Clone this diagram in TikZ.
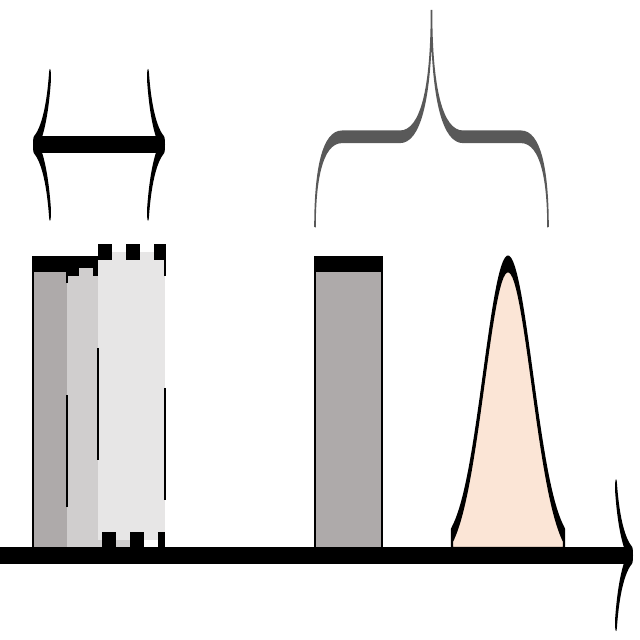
\documentclass[tikz,border=0pt]{standalone}
\usepackage{xcolor}
\usepackage{tikz}
\usetikzlibrary{arrows.meta}
\definecolor{pulsegray}{RGB}{174,170,170}
\definecolor{echogray}{RGB}{208,206,206}
\definecolor{tailgray}{RGB}{231,230,230}
\definecolor{peach}{RGB}{251,229,214}
\tikzstyle{axisarrow} = [-{To[length=1.8mm, width=1.9mm]}, semithick]
\tikzstyle{spanarrow} = [{To[length=1.8mm, width=1.9mm]}-{To[length=1.8mm, width=1.9mm]}, semithick]
\tikzstyle{pulse} = [fill=pulsegray, draw=black, semithick]
\tikzstyle{echo} = [draw=black, semithick, dash pattern=on 1.4mm off 1.4mm]

\begin{document}
\begin{tikzpicture}[x=0.1mm, y=0.1mm]
    \useasboundingbox (0,0) rectangle (640,640);
    % drawn flat, then stretched upward 8 times
    \begin{scope}[transform canvas={yscale=8}]
    \draw[pulse] (33,10.6) rectangle (100,47);
    \draw[echo, fill=echogray, dash phase=2.2mm] (67,10.6) rectangle (133,46.5);
    \fill[tailgray] (98,12.5) rectangle (165,48.5);
    \draw[echo] (98,48.5) -- (165,48.5) -- (165,12.5);
    \draw[echo, dash phase=1.6mm] (98,48.5) -- (98,12.5) -- (165,12.5);
    \draw[pulse] (315,10.6) rectangle (382,47);
    \draw[semithick, fill=peach, domain=452:564, samples=60]
        (452,10.6) -- plot (\x, {10.6+36.4*exp(-((\x-508)/24.2)^2/2)}) -- (564,10.6) -- cycle;
    \coordinate (spanL) at (33,61.9);
    \coordinate (spanR) at (165,61.9);
    \draw[spanarrow] (spanL) -- (spanR);
    % brace over the second pulse and the bump
    \draw[line width=0.45pt, black!65]
        (315,51.6) .. controls (315,58) and (322,62.9) .. (342,62.9) -- (400,62.9)
        .. controls (420,62.9) and (431.5,68) .. (431.5,78.75)
        .. controls (431.5,68) and (443,62.9) .. (463,62.9) -- (521,62.9)
        .. controls (541,62.9) and (548,58) .. (548,51.6);
    \coordinate (origin) at (0,10.6);
    \coordinate (tmax) at (633,10.6);
    \draw[axisarrow] (origin) -- (tmax);
    \end{scope}
\end{tikzpicture}
\end{document}
